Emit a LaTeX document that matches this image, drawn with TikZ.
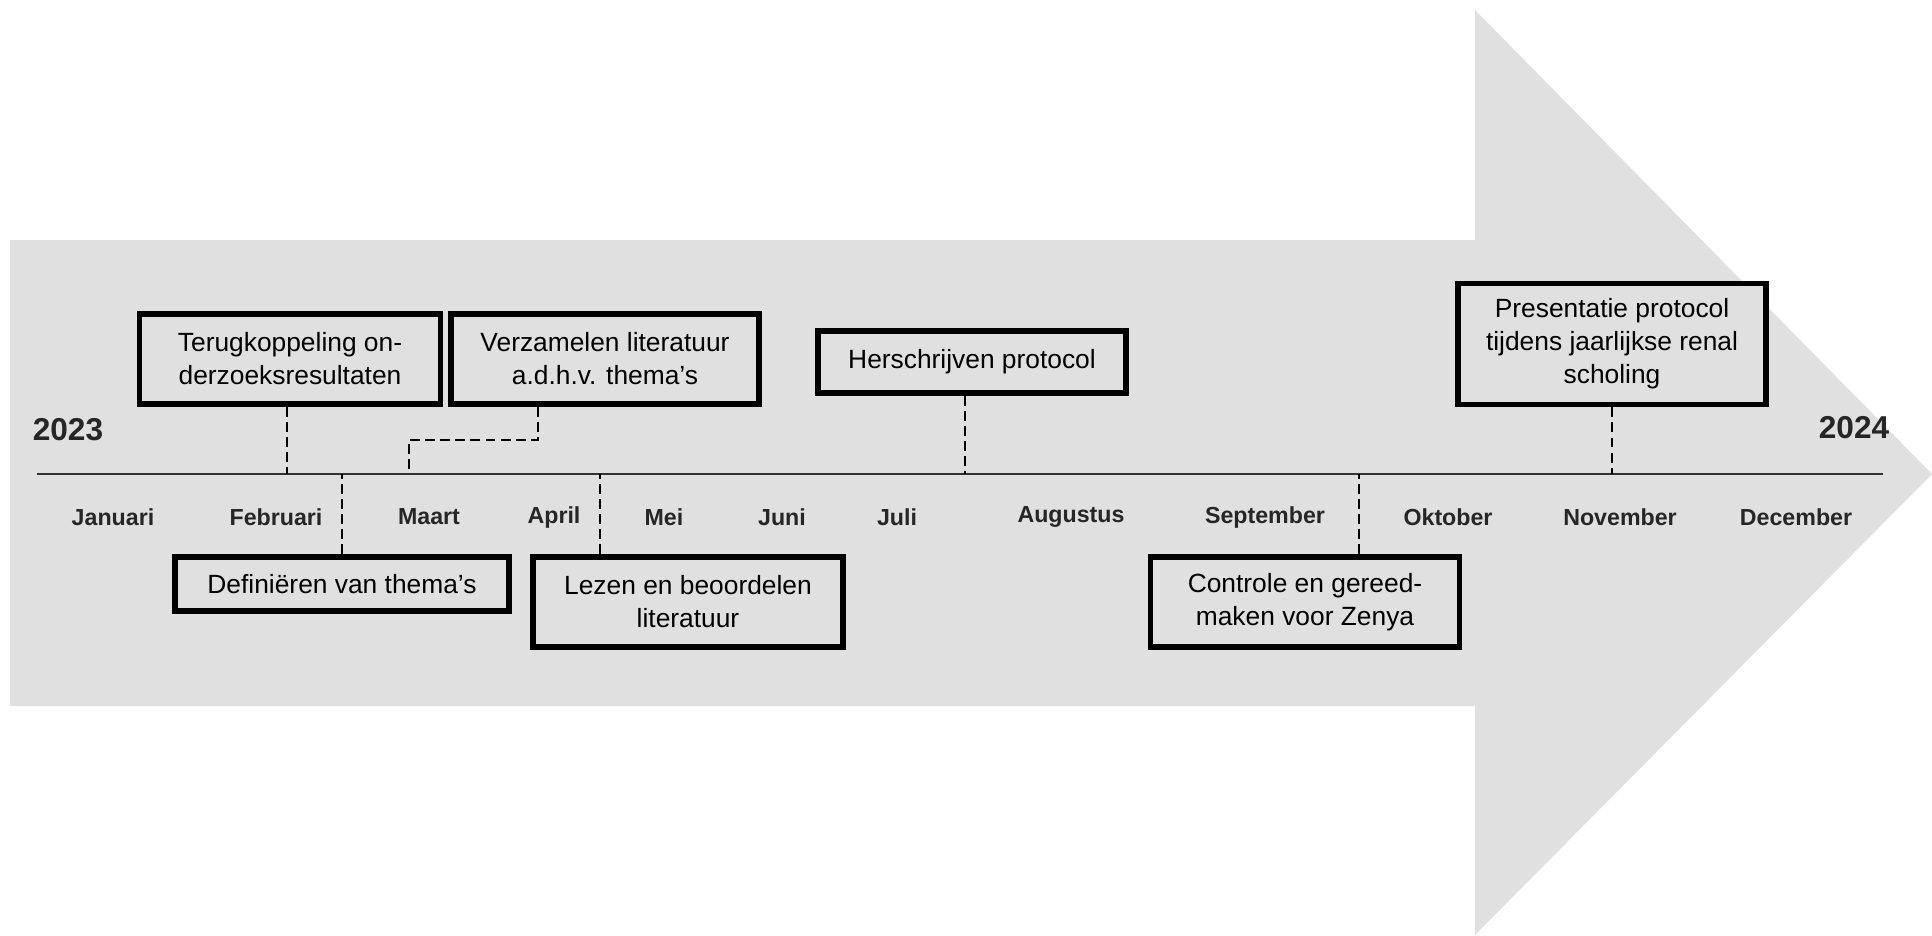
\documentclass[tikz,border=0pt]{standalone}
\usepackage{fontspec}
\setmainfont{Liberation Sans}
\usepackage{tikz}
\usetikzlibrary{positioning}
\usepackage{xcolor}
\definecolor{arrowgrey}{RGB}{224,224,224}

\tikzset{
  taskbox/.style={draw, line width=1.6pt, fill=arrowgrey, align=center, inner sep=0pt,
    font=\fontsize{7.5}{9.4}\selectfont},
  month/.style={font=\fontsize{6.6}{8}\selectfont\bfseries, text=black!85},
  year/.style={font=\fontsize{9}{11}\selectfont\bfseries, text=black!85},
  conn/.style={dash pattern=on 2.8pt off 1.5pt, line width=0.6pt}
}

\begin{document}
\begin{tikzpicture}
    \useasboundingbox (0,0) rectangle (19.32,-9.35);
    % big grey arrow
    \fill[arrowgrey] (0.10,-2.40) -- (14.75,-2.40) -- (14.75,-0.10) -- (19.32,-4.74)
        -- (14.75,-9.35) -- (14.75,-7.06) -- (0.10,-7.06) -- cycle;
    % timeline
    \coordinate (lineL) at (0.37,-4.74);
    \coordinate (lineR) at (18.83,-4.74);
    \draw[line width=0.6pt, black!80] (lineL) -- (lineR);
    \node[year] (y2023) at (0.68,-4.30) {2023};
    \node[year] (y2024) at (18.54,-4.28) {2024};
    % months
    \foreach \name/\x/\txt in {jan/1.13/Januari, feb/2.76/Februari, mrt/4.29/Maart,
        apr/5.54/April, mei/6.64/Mei, jun/7.82/Juni, jul/8.97/Juli, aug/10.71/Augustus,
        sep/12.65/September, okt/14.48/Oktober, nov/16.20/November, dec/17.96/December}
        \node[month] (\name) at (\x,-5.17) {\txt};
    % tasks above the line
    \node[taskbox, minimum width=3.01cm, minimum height=0.90cm] (terug) at (2.90,-3.59)
        {Terugkoppeling on-\\derzoeksresultaten};
    \node[taskbox, minimum width=3.08cm, minimum height=0.90cm] (verzamel) at (6.05,-3.59)
        {Verzamelen literatuur\\a.d.h.v. thema’s};
    \node[taskbox, minimum width=3.08cm, minimum height=0.62cm] (herschrijf) at (9.72,-3.62)
        {Herschrijven protocol};
    \node[taskbox, minimum width=3.08cm, minimum height=1.21cm] (presentatie) at (16.12,-3.44)
        {Presentatie protocol\\tijdens jaarlijkse renal\\scholing};
    % tasks below the line
    \node[taskbox, minimum width=3.34cm, minimum height=0.54cm] (definieer) at (3.42,-5.84)
        {Definiëren van thema’s};
    \node[taskbox, minimum width=3.10cm, minimum height=0.90cm] (lezen) at (6.88,-6.02)
        {Lezen en beoordelen\\literatuur};
    \node[taskbox, minimum width=3.09cm, minimum height=0.90cm] (controle) at (13.05,-6.02)
        {Controle en gereed-\\maken voor Zenya};
    % dashed connectors
    \coordinate (maart) at (4.09,-4.74);
    \draw[conn] ([xshift=-0.3mm]terug.south) -- ([xshift=-0.3mm]terug.south |- lineL);
    \draw[conn] ([xshift=-6.7mm]verzamel.south) -- ++(0,-0.33) -| (maart);
    \draw[conn] ([xshift=-0.7mm]herschrijf.south) -- ([xshift=-0.7mm]herschrijf.south |- lineL);
    \draw[conn] (presentatie.south) -- (presentatie.south |- lineL);
    \draw[conn] (definieer.north) -- (definieer.north |- lineL);
    \draw[conn] ([xshift=-8.8mm]lezen.north) -- ([xshift=-8.8mm]lezen.north |- lineL);
    \draw[conn] ([xshift=5.4mm]controle.north) -- ([xshift=5.4mm]controle.north |- lineL);
\end{tikzpicture}
\end{document}
